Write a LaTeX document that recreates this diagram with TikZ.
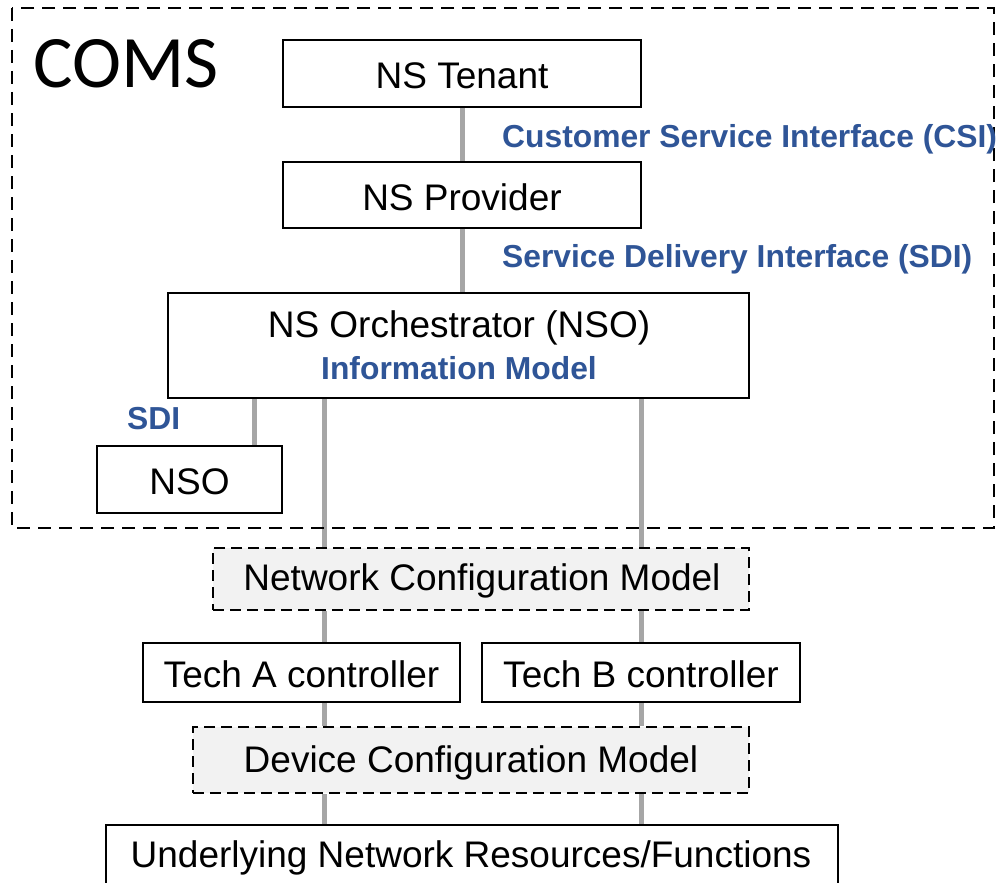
\documentclass[tikz,border=0pt]{standalone}
\usepackage{fontspec}
\setmainfont{Liberation Sans}
\newfontfamily\comsfont{Carlito}
\usetikzlibrary{backgrounds}
\definecolor{ifblue}{HTML}{2F5597}
\definecolor{linkgray}{HTML}{A6A6A6}
\definecolor{modelfill}{HTML}{F2F2F2}
\tikzset{
  boxfont/.style={font=\fontsize{37}{40}\selectfont},
  box/.style={draw=black, line width=2.8pt, fill=white, inner sep=0pt, boxfont},
  modelbox/.style={box, fill=modelfill, dash pattern=on 11pt off 6pt},
  iflabel/.style={text=ifblue, font=\fontsize{31.8}{36}\selectfont\bfseries,
    inner sep=0pt, anchor=west},
  link/.style={draw=linkgray, line width=5pt},
  comsframe/.style={draw=black, line width=2.5pt, dash pattern=on 13pt off 8pt}
}
\begin{document}
\begin{tikzpicture}[x=1pt,y=-1pt]
\useasboundingbox (0,0) rectangle (999,883);

% vertical columns for the connectors
\coordinate (cA) at (324,0);
\coordinate (cB) at (641,0);
\coordinate (cS) at (254,0);

% COMS domain
\draw[comsframe] (12,8) rectangle (994,528);
\node[anchor=base west, inner sep=0pt, font=\comsfont\fontsize{74}{80}\selectfont]
  (coms) at (33,88) {COMS};

% boxes
\node[box, minimum width=358pt, minimum height=67pt] (tenant) at (462,73.5) {};
\node[boxfont, inner sep=0pt] (tenanttxt) at (462,75.5) {NS Tenant};
\node[box, minimum width=358pt, minimum height=66pt] (provider) at (462,195) {};
\node[boxfont, inner sep=0pt] (providertxt) at (462,197) {NS Provider};
\node[box, minimum width=581pt, minimum height=105pt] (orch) at (458.5,345.5) {};
\node[boxfont, inner sep=0pt] (orchtxt) at (459,328) {NS Orchestrator (NSO)};
\node[iflabel, anchor=center] (infomodel) at (459,368.5) {Information Model};
\node[box, minimum width=185pt, minimum height=67pt] (nso) at (189.5,479.5) {};
\node[boxfont, inner sep=0pt] (nsotxt) at (189.5,481.5) {NSO};

\node[modelbox, minimum width=536pt, minimum height=62pt] (ncm) at (481,579) {};
\node[boxfont, inner sep=0pt] (ncmtxt) at (482,581) {Network Configuration Model};
\node[box, minimum width=317pt, minimum height=59pt] (techA) at (301.5,672.5) {};
\node[boxfont, inner sep=0pt] (techAtxt) at (301.5,674.5) {Tech A controller};
\node[box, minimum width=318pt, minimum height=59pt] (techB) at (641,672.5) {};
\node[boxfont, inner sep=0pt] (techBtxt) at (641,674.5) {Tech B controller};
\node[modelbox, minimum width=556pt, minimum height=66pt] (dcm) at (471,760) {};
\node[boxfont, inner sep=0pt] (dcmtxt) at (471,763) {Device Configuration Model};
\node[box, minimum width=732pt, minimum height=80pt] (under) at (472,865) {};
\node[boxfont, inner sep=0pt] (undertxt) at (471,858) {Underlying Network Resources/Functions};

% interface labels
\node[iflabel] (csi) at (502,139) {Customer Service Interface (CSI)};
\node[iflabel] (sdi) at (502,259) {Service Delivery Interface (SDI)};
\node[iflabel] (sdismall) at (127,419) {SDI};

% connectors, behind the boxes
\begin{scope}[on background layer]
\fill[white] (0,0) rectangle (999,883);
\draw[link] (tenant.south) -- (provider.north);
\draw[link] (provider.south) -- (provider.south |- orch.north);
\draw[link] (orch.south -| cS) -- (nso.north -| cS);
\draw[link] (orch.south -| cA) -- (ncm.north -| cA);
\draw[link] (orch.south -| cB) -- (ncm.north -| cB);
\draw[link] (ncm.south -| cA) -- (techA.north -| cA);
\draw[link] (ncm.south -| cB) -- (techB.north -| cB);
\draw[link] (techA.south -| cA) -- (dcm.north -| cA);
\draw[link] (techB.south -| cB) -- (dcm.north -| cB);
\draw[link] (dcm.south -| cA) -- (under.north -| cA);
\draw[link] (dcm.south -| cB) -- (under.north -| cB);
\end{scope}
\end{tikzpicture}
\end{document}
